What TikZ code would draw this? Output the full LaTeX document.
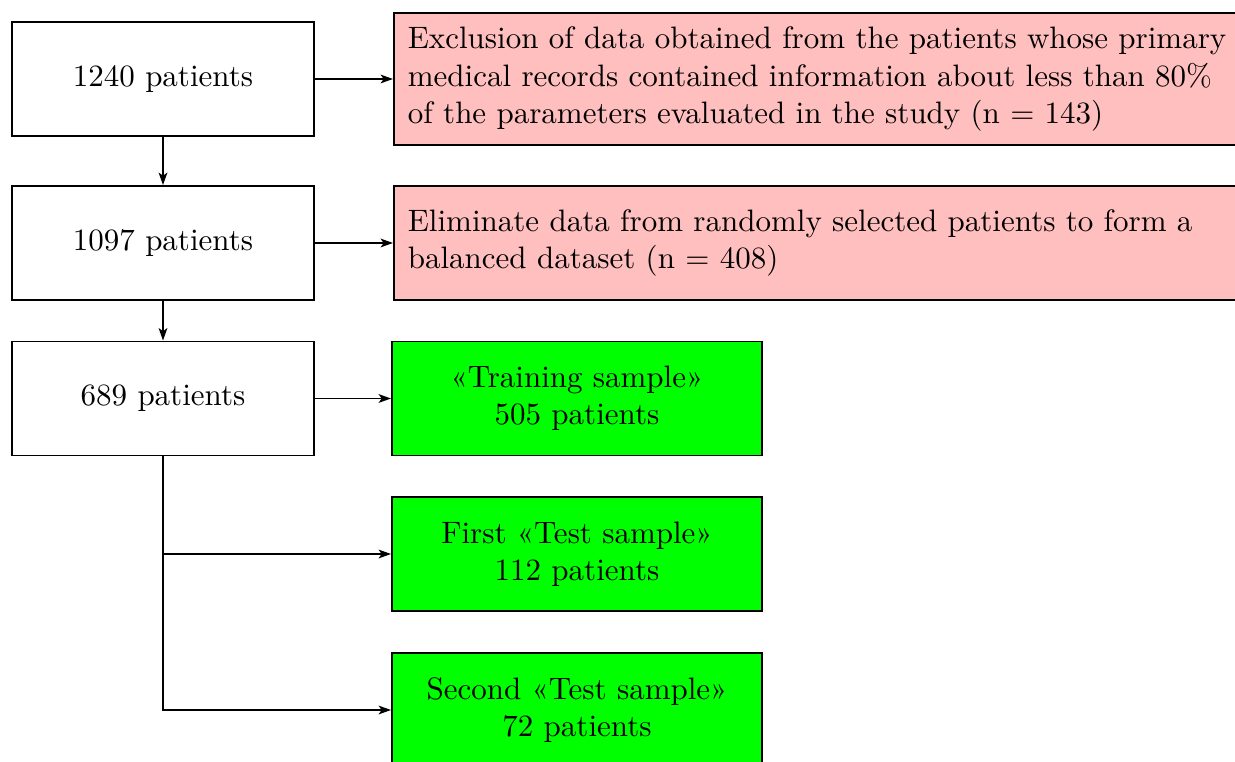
\documentclass[tikz,border=0pt]{standalone}
\usetikzlibrary{arrows.meta}

\begin{document}
\begin{tikzpicture}[x=0.3226pt,y=-0.3226pt,
        patbox/.style={draw,semithick,minimum width=97.4pt,minimum height=36.8pt},
        exclbox/.style={draw,semithick,fill=red!25,anchor=west,align=flush left,text width=268pt,inner xsep=4.5pt,inner ysep=4.5pt,minimum height=36.8pt},
        sampbox/.style={draw,semithick,fill=green,align=center,minimum width=119.4pt,minimum height=36.8pt},
        arr/.style={semithick,-{Stealth[length=4pt,width=2.8pt,inset=1pt]}}]
    \useasboundingbox (0,0) rectangle (1235,762);

    % left column
    \node[patbox] (p1240) at (163,79) {1240 patients};
    \node[patbox] (p1097) at (163,243) {1097 patients};
    \node[patbox] (p689) at (163,398.5) {689 patients};

    % excluded data
    \node[exclbox] (excl) at (393,79) {Exclusion of data obtained from the patients whose primary medical records contained information about less than 80\% of the parameters evaluated in the study (n = 143)};
    \node[exclbox] (elim) at (393,243) {Eliminate data from randomly selected patients to form a balanced dataset (n = 408)};

    % samples
    \node[sampbox] (train) at (577,398.5) {«Training sample»\\505 patients};
    \node[sampbox] (test1) at (577,554) {First «Test sample»\\112 patients};
    \node[sampbox] (test2) at (577,710) {Second «Test sample»\\72 patients};

    \draw[arr] (p1240.east) -- (excl.west);
    \draw[arr] (p1240) -- (p1097);
    \draw[arr] (p1097.east) -- (elim.west);
    \draw[arr] (p1097) -- (p689);
    \draw[arr] (p689.east) -- (train.west);
    \draw[arr] (p689.south) |- (test1.west);
    \draw[arr] (p689.south) |- (test2.west);
\end{tikzpicture}
\end{document}
